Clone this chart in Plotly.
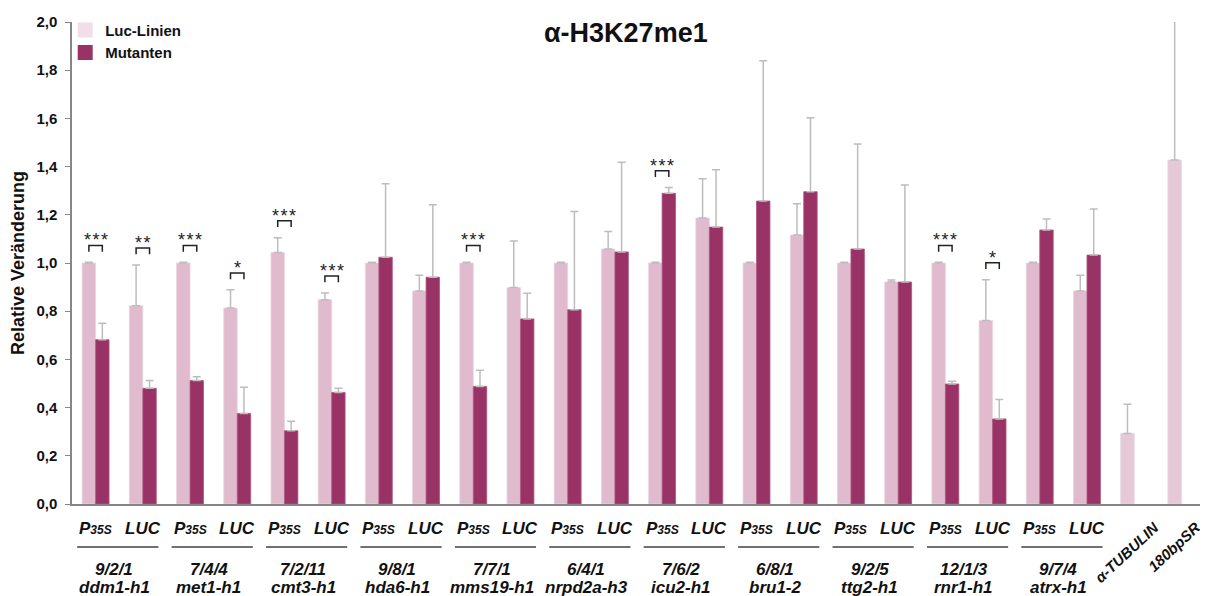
import plotly.graph_objects as go

# ---------------- data ----------------
genotype_ids = ["9/2/1", "7/4/4", "7/2/11", "9/8/1", "7/7/1", "6/4/1", "7/6/2", "6/8/1",
                "9/2/5", "12/1/3", "9/7/4"]
genotypes = ["ddm1-h1", "met1-h1", "cmt3-h1", "hda6-h1", "mms19-h1", "nrpd2a-h3", "icu2-h1",
             "bru1-2", "ttg2-h1", "rnr1-h1", "atrx-h1"]
loci = ["P<span style=\"font-size:12px\">35S</span>", "LUC"]
controls = ["α-TUBULIN", "180bpSR"]

# Luc-Linien (light) per category: P35S, LUC for each genotype, then controls
luc_vals = [1.000, 0.823, 1.000, 0.813, 1.044, 0.848, 1.000, 0.884, 1.000, 0.898, 1.000, 1.058,
            1.000, 1.187, 1.000, 1.116, 1.000, 0.921, 1.000, 0.761, 1.000, 0.884, 0.293, 1.427]
luc_err = [0.003, 0.169, 0.003, 0.076, 0.061, 0.028, 0.003, 0.065, 0.003, 0.193, 0.003, 0.073,
           0.003, 0.163, 0.003, 0.130, 0.003, 0.008, 0.003, 0.170, 0.003, 0.065, 0.121, 0.620]
# Mutanten (dark) per category (none for the controls)
mut_vals = [0.682, 0.480, 0.512, 0.376, 0.304, 0.463, 1.024, 0.941, 0.488, 0.768, 0.806, 1.046,
            1.289, 1.149, 1.257, 1.296, 1.058, 0.921, 0.498, 0.353, 1.137, 1.033, None, None]
mut_err = [0.068, 0.032, 0.016, 0.108, 0.039, 0.017, 0.305, 0.301, 0.067, 0.106, 0.408, 0.372,
           0.024, 0.238, 0.582, 0.307, 0.436, 0.403, 0.011, 0.081, 0.046, 0.191, None, None]
# significance labels per category
sig = ["***", "**", "***", "*", "***", "***", "", "", "***", "", "", "",
       "***", "", "", "", "", "", "***", "*", "", "", "", ""]

# ---------------- styling ----------------
LIGHT = "#DFBBCD"
LIGHT2 = "#E5C9D7"
LIGHT_LEG = "#F1DFE8"
DARK = "#993366"
ERR = "#BDBDBD"
FONT = "Arial, Liberation Sans, sans-serif"

n = len(luc_vals)
xs = list(range(n))
BW = 0.285

light_colors = [LIGHT] * (n - 2) + [LIGHT2] * 2

fig = go.Figure()
fig.add_trace(go.Bar(
    x=xs, y=luc_vals, width=BW, offset=-BW, name="Luc-Linien", showlegend=False,
    marker=dict(color=light_colors, line=dict(color="#EAD3DF", width=0.8)),
    error_y=dict(type="data", array=luc_err, symmetric=False, arrayminus=[0] * n,
                 color=ERR, thickness=1.5, width=4),
))
fig.add_trace(go.Bar(
    x=xs, y=mut_vals, width=BW, offset=0, name="Mutanten", showlegend=False,
    marker=dict(color=DARK, line=dict(color="#B0557F", width=0.8)),
    error_y=dict(type="data", array=mut_err, symmetric=False,
                 arrayminus=[0] * n, color=ERR, thickness=1.5, width=4),
))
# legend entries (square swatches)
fig.add_trace(go.Scatter(x=[None], y=[None], mode="markers", name="Luc-Linien",
                         marker=dict(symbol="square", size=15, color=LIGHT_LEG, line=dict(width=0))))
fig.add_trace(go.Scatter(x=[None], y=[None], mode="markers", name="Mutanten",
                         marker=dict(symbol="square", size=15, color=DARK, line=dict(width=0))))

shapes = []
annotations = []

# significance brackets
for i, s in enumerate(sig):
    if not s:
        continue
    top = luc_vals[i] + luc_err[i]
    if mut_vals[i] is not None:
        top = max(top, mut_vals[i] + mut_err[i])
    yb = top + 0.07
    x0 = i - BW / 2
    x1 = i + BW / 2
    shapes.append(dict(type="path", xref="x", yref="y",
                       path=f"M {x0},{yb-0.026} L {x0},{yb} L {x1},{yb} L {x1},{yb-0.026}",
                       line=dict(color="#222222", width=1.5)))
    annotations.append(dict(x=i, y=yb, xref="x", yref="y", text="\u200a".join(s), showarrow=False,
                            yanchor="bottom", yshift=-7,
                            font=dict(family=FONT, size=18, color="#222222")))

# locus labels and genotype labels
for g in range(len(genotypes)):
    for j, loc in enumerate(loci):
        i = 2 * g + j
        annotations.append(dict(x=i, y=-0.05, xref="x", yref="paper",
                                text=f"<b><i>{loc}</i></b>", showarrow=False,
                                xanchor="center", yanchor="middle",
                                font=dict(family=FONT, size=17, color="#111111")))
    shapes.append(dict(type="line", xref="x", yref="paper",
                       x0=2 * g - 0.39, x1=2 * g + 1 + 0.33, y0=-0.089, y1=-0.089,
                       line=dict(color="#404040", width=1.5)))
    for txt, yp in ((genotype_ids[g], -0.135), (genotypes[g], -0.174)):
        annotations.append(dict(x=2 * g + 0.5, y=yp, xref="x", yref="paper", xshift=-5,
                                text=f"<b><i>{txt}</i></b>", showarrow=False,
                                xanchor="center", yanchor="middle",
                                font=dict(family=FONT, size=17, color="#111111")))

# control labels (rotated)
ctrl_pos = [(n - 2, -8, -0.0996), (n - 1, -7, -0.089)]
for (ci, xs_, yp), lab in zip(ctrl_pos, controls):
    annotations.append(dict(x=ci, y=yp, xref="x", yref="paper", xshift=xs_,
                            text=f"<b><i>{lab}</i></b>", showarrow=False, textangle=-43,
                            xanchor="center", yanchor="middle",
                            font=dict(family=FONT, size=15, color="#111111")))

# title
annotations.append(dict(x=0.489, y=0.977, xref="paper", yref="paper",
                        text="<b>α-H3K27me1</b>", showarrow=False,
                        xanchor="center", yanchor="middle",
                        font=dict(family=FONT, size=27, color="#111111")))

# the page body has an 8px margin, so the figure is sized to fit inside the window
fig.update_layout(
    width=1200, height=588,
    margin=dict(l=64, r=3, t=14, b=92, autoexpand=False),
    paper_bgcolor="white", plot_bgcolor="white",
    barmode="overlay",
    separators=",.",
    font=dict(family=FONT, color="#111111"),
    shapes=shapes, annotations=annotations,
    legend=dict(x=-0.006, y=1.017, xanchor="left", yanchor="top",
                font=dict(family=FONT, size=15, weight="bold", color="#111111"),
                bgcolor="rgba(0,0,0,0)", itemwidth=30, tracegroupgap=0,
                itemsizing="trace"),
    xaxis=dict(range=[-0.5, n - 0.5], showticklabels=False, ticks="",
               showline=True, linecolor="#868686", linewidth=1.5, automargin=False,
               showgrid=False, zeroline=False, fixedrange=True),
    yaxis=dict(range=[0, 2.0], tickvals=[i * 0.2 for i in range(11)], tickformat=".1f",
               ticks="outside", ticklen=5, tickcolor="#868686", tickwidth=1,
               ticklabelstandoff=5,
               showline=True, linecolor="#868686", linewidth=1.5, automargin=False,
               showgrid=False, zeroline=False,
               tickfont=dict(family=FONT, size=15, weight="bold", color="#111111"),
               title=dict(text="Relative Veränderung", standoff=9,
                          font=dict(family=FONT, size=18, weight="bold", color="#111111"))),
)

fig.write_html("out.html")
